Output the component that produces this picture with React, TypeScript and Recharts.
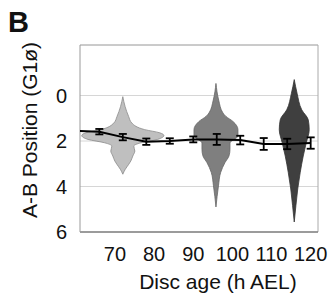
import { ComposedChart, Area, Scatter, ErrorBar, XAxis, YAxis, CartesianGrid, ReferenceLine } from 'recharts';

// mean A-B position over disc age (with SEM)
const hours = [60, 66, 72, 78, 84, 90, 96, 102, 108, 114, 120];
const meanPos = [1.55, 1.59, 1.83, 2.03, 2.0, 1.93, 1.93, 1.96, 2.13, 2.13, 2.09];
const semPos = [0, 0.12, 0.14, 0.14, 0.12, 0.13, 0.24, 0.19, 0.26, 0.23, 0.25];

// violin profiles: position along A-B axis and half width (in hours)
const violinAges = [72, 95.8, 115.8];
const lightPos = [0.05, 0.49, 0.92, 1.21, 1.5, 1.64, 1.76, 1.93, 2.08, 2.22, 2.44, 2.66, 2.88, 3.02, 3.24, 3.46];
const lightHalf = [0, 0.59, 1.48, 2.3, 5.6, 9.45, 10.5, 8.9, 4.6, 2.8, 3.07, 2.55, 2.04, 1.53, 0.64, 0];
const midPos = [-0.53, 0.2, 0.77, 0.92, 1.14, 1.5, 1.79, 1.93, 2.08, 2.37, 2.66, 2.95, 3.38, 3.97, 4.9];
const midHalf = [0, 0.69, 1.79, 2.55, 4.34, 5.62, 5.62, 4.6, 3.58, 3.58, 3.32, 2.3, 1.2, 0.64, 0];
const darkPos = [-0.7, -0.1, 0.63, 1.07, 1.5, 2.08, 2.66, 3.38, 4.11, 4.83, 5.56];
const darkHalf = [0, 0.72, 1.92, 3.58, 3.83, 3.07, 2.3, 1.53, 0.89, 0.43, 0];

const xTicks = [70, 80, 90, 100, 110, 120];
const yTicks = [0, 2, 4, 6];
const xDomain = [61.06, 121.87];
const yDomain = [-2.22, 6];

const buildViolin = (center: number, pos: number[], half: number[]) =>
  pos.map((p, i) => ({ pos: p, band: [center - half[i], center + half[i]] }));

const lightData = buildViolin(violinAges[0], lightPos, lightHalf);
const midData = buildViolin(violinAges[1], midPos, midHalf);
const darkData = buildViolin(violinAges[2], darkPos, darkHalf);

const meanData = hours.map((h, i) => ({ h, pos: meanPos[i], err: semPos[i] }));

const font = '"Liberation Sans", Arial, Helvetica, sans-serif';

export default function App() {
  return (
    <div style={{ position: 'fixed', left: 0, top: 0, width: 334, height: 293, background: '#fff', fontFamily: font }}>
      <ComposedChart
        width={334}
        height={293}
        layout="vertical"
        margin={{ top: 45, right: 16, left: 0, bottom: 0 }}
      >
        <CartesianGrid vertical={false} stroke="#d6d6d6" strokeWidth={1} />
        <XAxis
          type="number"
          dataKey="h"
          domain={xDomain}
          ticks={xTicks}
          allowDataOverflow
          height={61}
          tickLine={false}
          tickSize={0}
          tickMargin={15}
          axisLine={{ stroke: '#808080', strokeWidth: 1.5 }}
          tick={{ fill: '#111', fontSize: 20, fontFamily: font }}
        />
        <YAxis
          type="number"
          dataKey="pos"
          domain={yDomain}
          ticks={yTicks}
          allowDataOverflow
          width={80}
          tickLine={false}
          tickSize={0}
          tickMargin={13}
          axisLine={{ stroke: '#9a9a9a', strokeWidth: 1 }}
          tick={{ fill: '#111', fontSize: 20, fontFamily: font }}
        />
        <ReferenceLine y={yDomain[0]} stroke="#aaa" strokeWidth={1} />
        <ReferenceLine x={xDomain[1]} stroke="#aaa" strokeWidth={1} />
        <Area
          data={lightData}
          dataKey="band"
          type="monotone"
          fill="#bfbfbf"
          fillOpacity={1}
          stroke="#8a8a8a"
          strokeWidth={0.8}
          isAnimationActive={false}
          activeDot={false}
        />
        <Area
          data={midData}
          dataKey="band"
          type="monotone"
          fill="#7f7f7f"
          fillOpacity={1}
          stroke="#666"
          strokeWidth={0.8}
          isAnimationActive={false}
          activeDot={false}
        />
        <Area
          data={darkData}
          dataKey="band"
          type="monotone"
          fill="#3f3f3f"
          fillOpacity={1}
          stroke="#333"
          strokeWidth={0.8}
          isAnimationActive={false}
          activeDot={false}
        />
        <Scatter
          data={meanData}
          line={{ stroke: '#000', strokeWidth: 2 }}
          shape={() => <g />}
          isAnimationActive={false}
        >
          <ErrorBar dataKey="err" direction="y" width={4} stroke="#000" strokeWidth={1.8} isAnimationActive={false} />
        </Scatter>
      </ComposedChart>
      <svg
        width={334}
        height={293}
        style={{ position: 'absolute', left: 0, top: 0, pointerEvents: 'none' }}
      >
        <text x={8} y={32} fontSize={29} fontWeight="bold" fill="#111" fontFamily={font}>B</text>
        <text x={218} y={289} fontSize={21} fill="#111" textAnchor="middle" fontFamily={font}>Disc age (h AEL)</text>
        <text
          x={37}
          y={130}
          fontSize={21}
          fill="#111"
          textAnchor="middle"
          fontFamily={font}
          transform="rotate(-90, 37, 130)"
        >
          A-B Position (G1ø)
        </text>
      </svg>
    </div>
  );
}
